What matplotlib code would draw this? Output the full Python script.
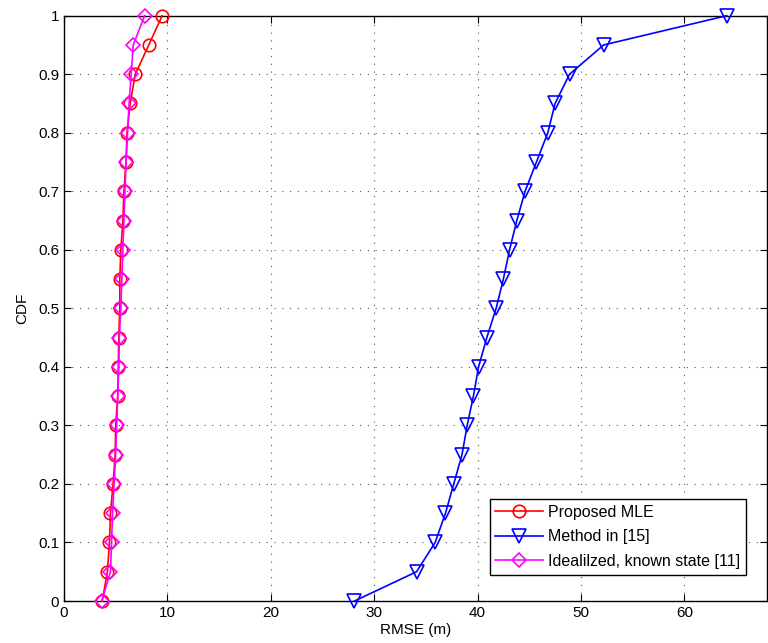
import matplotlib
matplotlib.use("Agg")
import matplotlib.pyplot as plt
import numpy as np

# CDF levels shared by all curves
cdf = np.arange(0, 1.0001, 0.05)

# RMSE values (m)
rmse_mle = [3.7, 4.2, 4.4, 4.5, 4.75, 4.95, 5.0, 5.2, 5.25, 5.3, 5.4,
            5.4, 5.5, 5.7, 5.8, 6.0, 6.1, 6.4, 6.9, 8.2, 9.5]
rmse_method15 = [28.1, 34.1, 35.9, 36.9, 37.7, 38.5, 39.0, 39.6, 40.1, 40.9, 41.8,
                 42.5, 43.1, 43.8, 44.6, 45.7, 46.8, 47.5, 48.9, 52.2, 64.1]
rmse_ideal = [3.65, 4.5, 4.6, 4.7, 4.85, 5.0, 5.1, 5.2, 5.3, 5.35, 5.5,
              5.6, 5.7, 5.8, 5.9, 6.0, 6.15, 6.3, 6.5, 6.7, 7.8]

labels = ["Proposed MLE", "Method in [15]", "Idealilzed, known state [11]"]

plt.rcParams['font.family'] = ['Liberation Sans', 'DejaVu Sans']
plt.rcParams['font.size'] = 11

fig = plt.figure(figsize=(7.68, 6.43), dpi=100)
ax = fig.add_axes([0.0833, 0.0653, 0.9154, 0.9103])

ax.plot(rmse_mle, cdf, color='red', marker='o', markersize=9, mfc='none',
        mew=1.2, lw=1.2, label=labels[0], clip_on=False, zorder=3)
ax.plot(rmse_method15, cdf, color='blue', marker='v', markersize=10, mfc='none',
        mew=1.2, lw=1.2, label=labels[1], clip_on=False, zorder=3)
ax.plot(rmse_ideal, cdf, color='magenta', marker='D', markersize=7, mfc='none',
        mew=1.2, lw=1.2, label=labels[2], clip_on=False, zorder=3)

ax.set_xlim(0, 68)
ax.set_ylim(0, 1)
ax.set_xticks(np.arange(0, 61, 10))
ax.set_yticks(np.arange(0, 1.01, 0.1))
ax.set_yticklabels(['0', '0.1', '0.2', '0.3', '0.4', '0.5', '0.6', '0.7', '0.8', '0.9', '1'])
ax.tick_params(direction='in', top=True, right=True, length=5, width=0.8, labelsize=11)
ax.grid(True, linestyle=(0, (1, 6)), color='#555555', linewidth=0.8)
for s in ax.spines.values():
    s.set_linewidth(1.0)

ax.set_xlabel("RMSE (m)", labelpad=2)
ax.set_ylabel("CDF", labelpad=6)

leg = ax.legend(loc='lower right', bbox_to_anchor=(0.97, 0.045), fancybox=False,
                edgecolor='black', framealpha=1, borderaxespad=0, handlelength=3.0,
                fontsize=11.5, labelspacing=0.6, borderpad=0.35, handletextpad=0.3)
leg.get_frame().set_linewidth(1.0)

fig.savefig("out.png", dpi=100)
